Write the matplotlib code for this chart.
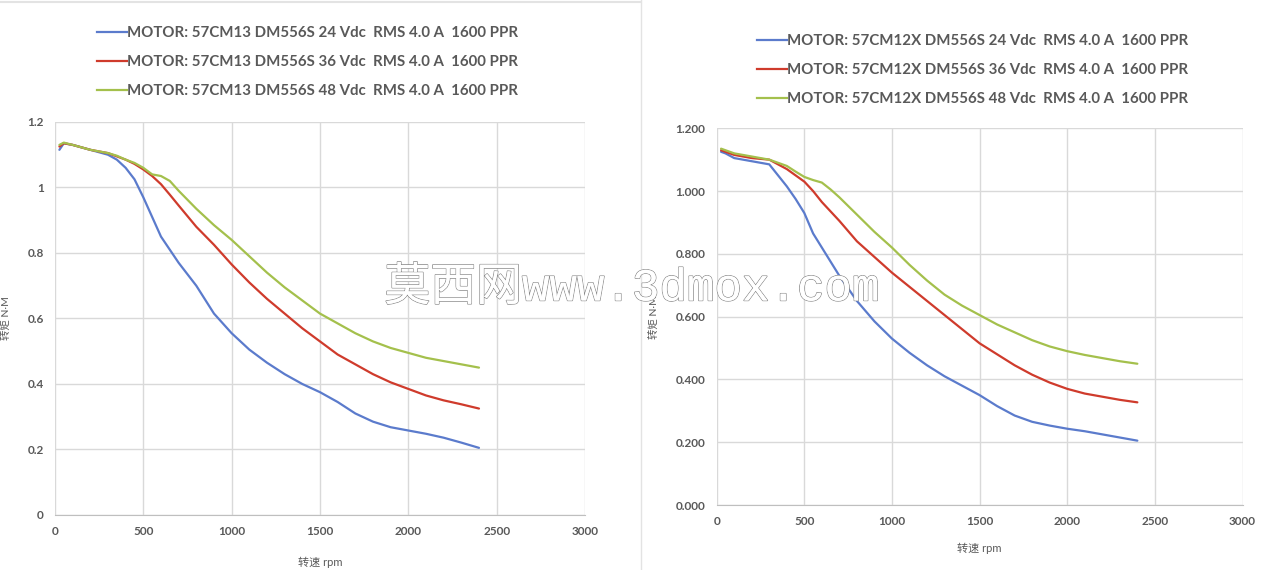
import matplotlib
matplotlib.use("Agg")
import matplotlib.pyplot as plt
import matplotlib.patheffects as pe
from matplotlib.lines import Line2D

plt.rcParams['font.family'] = ['Lato', 'Noto Sans CJK SC', 'DejaVu Sans']

# speed (rpm) shared by all curves
rpm = [25, 50, 100, 200, 300, 350, 400, 450, 500, 550, 600, 650, 700,
       800, 900, 1000, 1100, 1200, 1300, 1400, 1500, 1600, 1700, 1800,
       1900, 2000, 2100, 2200, 2300, 2400]

# 57CM13 torque (N·M)
cm13_24v = [1.115, 1.135, 1.13, 1.115, 1.10, 1.085, 1.06, 1.025, 0.97, 0.91,
            0.85, 0.81, 0.77, 0.70, 0.615, 0.555, 0.505, 0.465, 0.43, 0.40,
            0.375, 0.345, 0.31, 0.285, 0.268, 0.258, 0.248, 0.236, 0.221, 0.205]
cm13_36v = [1.125, 1.135, 1.13, 1.115, 1.105, 1.095, 1.085, 1.072, 1.055, 1.035,
            1.01, 0.978, 0.945, 0.88, 0.825, 0.765, 0.71, 0.66, 0.615, 0.57,
            0.53, 0.49, 0.46, 0.43, 0.405, 0.385, 0.365, 0.35, 0.338, 0.325]
cm13_48v = [1.13, 1.137, 1.13, 1.115, 1.105, 1.097, 1.085, 1.075, 1.06, 1.04,
            1.035, 1.02, 0.99, 0.935, 0.885, 0.84, 0.79, 0.74, 0.695, 0.655,
            0.615, 0.585, 0.555, 0.53, 0.51, 0.495, 0.48, 0.47, 0.46, 0.45]

# 57CM12X torque (N·M)
cm12x_24v = [1.125, 1.12, 1.105, 1.095, 1.085, 1.05, 1.015, 0.975, 0.93, 0.865,
             0.82, 0.775, 0.73, 0.65, 0.585, 0.53, 0.485, 0.445, 0.41, 0.38,
             0.35, 0.315, 0.285, 0.265, 0.253, 0.243, 0.235, 0.225, 0.215, 0.205]
cm12x_36v = [1.13, 1.125, 1.115, 1.105, 1.10, 1.085, 1.07, 1.05, 1.03, 1.0,
             0.965, 0.935, 0.905, 0.84, 0.79, 0.74, 0.695, 0.65, 0.605, 0.56,
             0.515, 0.48, 0.445, 0.415, 0.39, 0.37, 0.355, 0.345, 0.335, 0.327]
cm12x_48v = [1.135, 1.13, 1.12, 1.11, 1.10, 1.09, 1.08, 1.062, 1.045, 1.035,
             1.027, 1.005, 0.98, 0.925, 0.87, 0.82, 0.765, 0.715, 0.67, 0.635,
             0.605, 0.575, 0.55, 0.525, 0.505, 0.49, 0.478, 0.468, 0.458, 0.45]

voltages = ["24", "36", "48"]
colors = ["#5b7bcc", "#cf3b2c", "#a4c04c"]
x_ticks = [0, 500, 1000, 1500, 2000, 2500, 3000]
y_ticks = [0, 0.2, 0.4, 0.6, 0.8, 1.0, 1.2]

TXT = "#595959"
GRID = "#d9d9d9"

fig = plt.figure(figsize=(12.64, 5.70), dpi=100)


def draw_panel(rect, motor, series, yfmt, leg_x, leg_y, xpad):
    ax = fig.add_axes(rect)
    for ys, c in zip(series, colors):
        ax.plot(rpm, ys, color=c, lw=1.6, solid_capstyle='round')
    ax.set_xlim(0, 3000)
    ax.set_ylim(0, 1.2)
    ax.set_xticks(x_ticks)
    ax.set_yticks(y_ticks)
    ax.set_yticklabels([yfmt(v) for v in y_ticks])
    ax.grid(True, color=GRID, lw=1.0)
    ax.set_axisbelow(True)
    for s in ["top", "right", "left"]:
        ax.spines[s].set_visible(False)
    ax.spines["bottom"].set_color("#bfbfbf")
    ax.tick_params(length=0, labelsize=8.5, colors=TXT, pad=8)
    for lab in ax.get_xticklabels() + ax.get_yticklabels():
        lab.set_fontweight('bold')
    ax.set_xlabel("转速 rpm", fontsize=8, color=TXT, labelpad=xpad)
    ax.set_ylabel("转矩 N·M", fontsize=7.5, color=TXT, labelpad=12)

    handles = [Line2D([], [], color=c, lw=1.6) for c in colors]
    labels = ["MOTOR: %s DM556S %s Vdc  RMS 4.0 A  1600 PPR" % (motor, v) for v in voltages]
    leg = fig.legend(handles, labels, loc="upper left", bbox_to_anchor=(leg_x, leg_y),
                     frameon=False, handlelength=2.0, handletextpad=0.0,
                     labelspacing=1.0, prop={'family': 'Lato', 'weight': 'bold', 'size': 10.8})
    for t in leg.get_texts():
        t.set_color(TXT)
    return ax


draw_panel([0.0435, 0.0965, 0.4193, 0.6895], "57CM13",
           [cm13_24v, cm13_36v, cm13_48v],
           lambda v: "%g" % v, 0.066, 0.978, 14)
draw_panel([0.567, 0.114, 0.416, 0.661], "57CM12X",
           [cm12x_24v, cm12x_36v, cm12x_48v],
           lambda v: "%.3f" % v, 0.588, 0.964, 11)

# panel divider
fig.add_artist(Line2D([0.507, 0.507], [0.0, 1.0], color="#e3e3e3", lw=1.0))
fig.add_artist(Line2D([0.0, 0.507], [0.997, 0.997], color="#e3e3e3", lw=1.5))

# watermark
fig.text(0.5, 0.494, "莫西网www.3dmox.com", ha="center", va="center",
         fontsize=33, family=['Liberation Mono', 'Noto Sans CJK SC', 'DejaVu Sans'],
         color="white", fontweight='light',
         path_effects=[pe.withStroke(linewidth=1.1, foreground="#8a8a8a"), pe.Normal()])

fig.savefig("out.png", dpi=100, facecolor="white")
